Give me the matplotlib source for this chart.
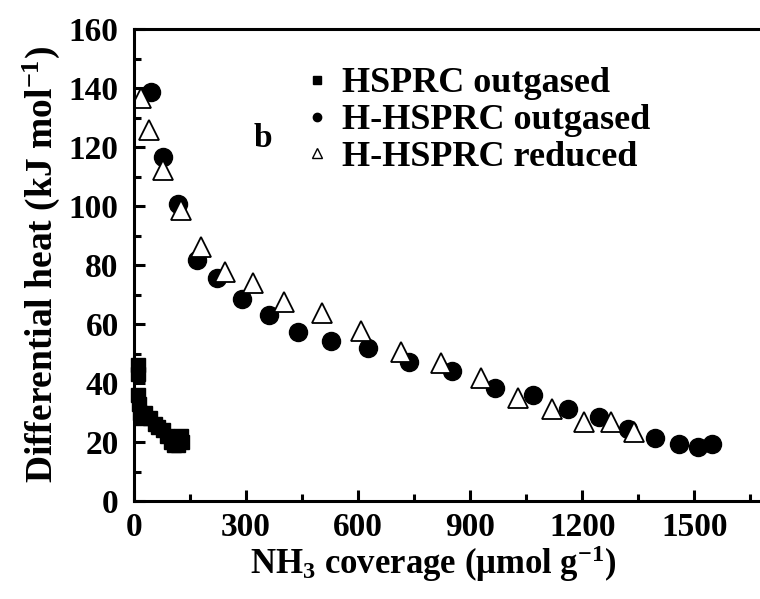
import numpy as np
import matplotlib
matplotlib.use("Agg")
import matplotlib.pyplot as plt
from matplotlib.lines import Line2D
from matplotlib.ticker import MultipleLocator

plt.rcParams['font.family'] = ['Liberation Serif', 'DejaVu Serif']
plt.rcParams['font.weight'] = 'bold'
plt.rcParams['axes.labelweight'] = 'bold'
plt.rcParams['mathtext.fontset'] = 'custom'
plt.rcParams['mathtext.rm'] = 'Liberation Serif:bold'
plt.rcParams['mathtext.bf'] = 'Liberation Serif:bold'
plt.rcParams['mathtext.default'] = 'bf'

# HSPRC outgased (squares)
sq_x = [10, 10, 12, 14, 16, 22, 30, 42, 55, 65, 78, 88, 98, 108, 118, 125, 128]
sq_y = [46, 43, 36, 33, 30, 28, 30, 28, 26, 25, 24, 22, 20, 19, 19, 22, 20]

# H-HSPRC outgased (circles)
ci_x = [45, 78, 119, 168, 221, 288, 362, 439, 527, 627, 735, 852, 966, 1069,
        1161, 1245, 1323, 1394, 1459, 1510, 1548]
ci_y = [138.7, 116.6, 100.7, 81.7, 75.5, 68.4, 63.0, 57.4, 54.2, 51.8, 47.0,
        44.0, 38.4, 35.8, 31.1, 28.6, 24.4, 21.5, 19.4, 18.4, 19.4]

# H-HSPRC reduced (open triangles)
tr_x = [19, 41, 78, 125, 179, 243, 318, 402, 502, 607, 714, 823, 929, 1028,
        1120, 1204, 1276, 1338]
tr_y = [136.5, 125.8, 112.2, 98.6, 86.2, 77.5, 74.0, 67.6, 63.6, 57.7, 50.4,
        46.7, 41.6, 34.8, 31.1, 26.9, 26.7, 23.3]

fig = plt.figure(figsize=(7.6, 5.99), dpi=100)
ax = fig.add_axes([134 / 760, 98 / 599, 635 / 760, 472 / 599])

ax.plot(sq_x, sq_y, 's', color='black', markersize=10, clip_on=False)
ax.plot(ci_x, ci_y, 'o', color='black', markersize=13)
ax.plot(tr_x, tr_y, '^', markerfacecolor='white', markeredgecolor='black',
        markeredgewidth=1.3, markersize=14)

ax.set_xlim(0, 1700)
ax.set_ylim(0, 160)
ax.xaxis.set_major_locator(MultipleLocator(300))
ax.xaxis.set_minor_locator(MultipleLocator(150))
ax.yaxis.set_major_locator(MultipleLocator(20))
ax.yaxis.set_minor_locator(MultipleLocator(10))
ax.set_xticks(np.arange(0, 1501, 300))
ax.tick_params(which='both', direction='in', width=2.2, top=False, right=False,
               labelsize=24)
ax.tick_params(which='major', length=8)
ax.tick_params(which='minor', length=5)
ax.tick_params(axis='y', pad=11)
ax.tick_params(axis='x', pad=8)
for s in ax.spines.values():
    s.set_linewidth(2.2)

ax.set_xlabel(r'NH$_3$ coverage ($\mu$mol g$^{-1}$)', fontsize=25,
              fontweight='bold', labelpad=0)
ax.xaxis.set_label_coords(0.471, -0.09)
ax.set_ylabel(r'Differential heat (kJ mol$^{-1}$)', fontsize=27,
              fontweight='bold', labelpad=5)

ax.text(345, 123, 'b', fontsize=24, ha='center', va='center')

handles = [
    Line2D([], [], ls='none', marker='s', color='black', markersize=6),
    Line2D([], [], ls='none', marker='o', color='black', markersize=6),
    Line2D([], [], ls='none', marker='^', markerfacecolor='white',
           markeredgecolor='black', markersize=7),
]
labels = ['HSPRC outgased', 'H-HSPRC outgased', 'H-HSPRC reduced']
ax.legend(handles, labels, loc='upper left', bbox_to_anchor=(0.243, 0.95),
          frameon=False, fontsize=26, handlelength=0.8, handletextpad=0.3,
          labelspacing=0.1, borderaxespad=0)

fig.savefig('out.png', dpi=100)
